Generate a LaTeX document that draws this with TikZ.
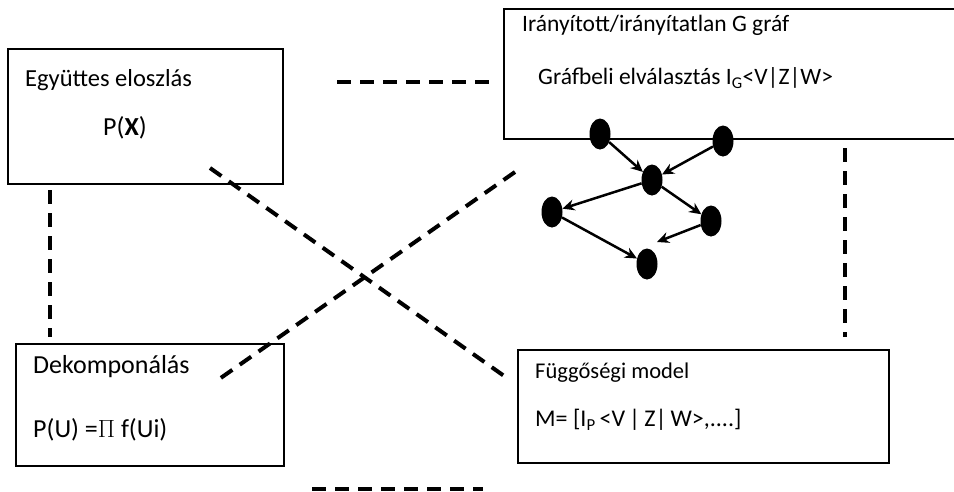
\documentclass[tikz,border=0pt]{standalone}
\usepackage{fontspec}
\setmainfont{Carlito}
\usetikzlibrary{arrows.meta,shapes.geometric}
\newcommand{\meret}[1]{\fontsize{#1}{#1}\selectfont}
\begin{document}
\begin{tikzpicture}[x=1pt,y=-1pt,
    doboz/.style={draw,line width=1.5pt,anchor=north west,inner sep=0pt},
    felirat/.style={anchor=west,inner sep=0pt},
    pont/.style={ellipse,fill=black,inner sep=0pt,minimum width=21,minimum height=31},
    nyil/.style={-{Stealth[length=12pt,width=11pt]},line width=2.5pt},
    szaggatott/.style={line width=4pt,dash pattern=on 14pt off 9pt}]

    \clip (0,0) rectangle (954,491);

    % a négy doboz
    \node[doboz,minimum width=275,minimum height=135] (egyuttes) at (7,48) {};
    \node[doboz,minimum width=480,minimum height=130] (graf) at (503,8) {};
    \node[doboz,minimum width=268,minimum height=122] (dekomp) at (15,343) {};
    \node[doboz,minimum width=371,minimum height=113] (modell) at (517,349) {};

    % szövegek
    \node[felirat,font=\meret{24.5}] (t1) at (25,80) {Együttes eloszlás};
    \node[felirat,font=\meret{26}] (t2) at (103,128) {P(\textbf{X})};
    \node[felirat,font=\meret{23.5}] (t3) at (522,25) {Irányított/irányítatlan G gráf};
    \node[felirat,font=\meret{23.5}] (t4) at (538,78) {Gráfbeli elválasztás I\textsubscript{G}<V|Z|W>};
    \node[felirat,font=\meret{26}] (t5) at (33,367) {Dekomponálás};
    \node[felirat,font=\meret{26}] (t6) at (33,430) {P(U) =$\Pi$ f(Ui)};
    \node[felirat,font=\meret{22.5}] (t7) at (535,373) {Függőségi model};
    \node[felirat,font=\meret{24}] (t8) at (535,420) {M= [I\textsubscript{P}\,<V\,|\,Z|\,W>,....]};

    % a gráf csúcsai
    \node[pont] (g1) at (600,134) {};
    \node[pont] (g2) at (723,141) {};
    \node[pont] (g3) at (652,180) {};
    \node[pont] (g4) at (552,212) {};
    \node[pont] (g5) at (711,221) {};
    \node[pont] (g6) at (647,264) {};
    \coordinate (v5) at (657,242);

    % a gráf élei
    \draw[nyil] (g1) -- (g3);
    \draw[nyil] (g2) -- (g3);
    \draw[nyil] (g3) -- (g4);
    \draw[nyil] (g3) -- (g5);
    \draw[nyil] (g4) -- (g6);
    \draw[nyil] (g5) -- (v5);

    % szaggatott vonalak
    \coordinate (a1) at (337,82);  \coordinate (a2) at (494,82);
    \coordinate (b1) at (50,190);  \coordinate (b2) at (50,337);
    \coordinate (c1) at (845,148); \coordinate (c2) at (845,337);
    \coordinate (d1) at (312,489); \coordinate (d2) at (483,489);
    \coordinate (e1) at (210,168); \coordinate (e2) at (507,378);
    \coordinate (f1) at (515,172); \coordinate (f2) at (215,382);
    \draw[szaggatott] (a1) -- (a2);
    \draw[szaggatott] (b1) -- (b2);
    \draw[szaggatott] (c1) -- (c2);
    \draw[szaggatott] (d1) -- (d2);
    \draw[szaggatott] (e1) -- (e2);
    \draw[szaggatott] (f1) -- (f2);

\end{tikzpicture}
\end{document}
